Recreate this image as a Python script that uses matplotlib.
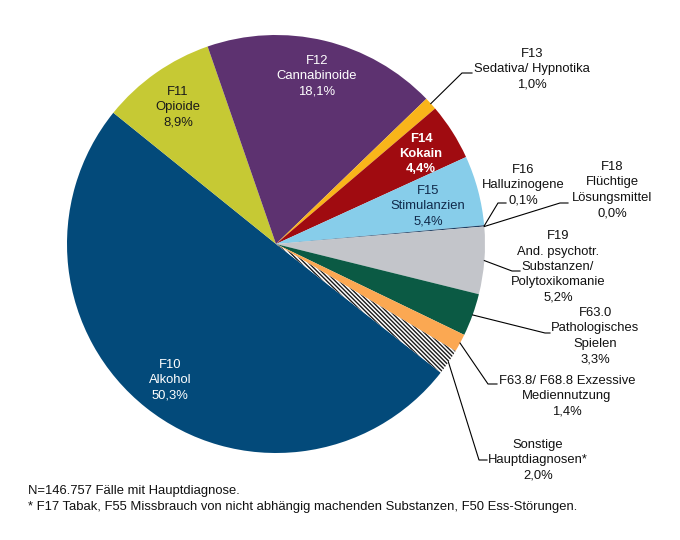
"""Hauptdiagnosen als Tortendiagramm (Anteile in %)."""

import numpy as np
import matplotlib
matplotlib.use('Agg')
import matplotlib.pyplot as plt

plt.rcParams['font.family'] = ['Liberation Sans', 'DejaVu Sans']
plt.rcParams['hatch.linewidth'] = 1.0

codes = ['F10', 'F11', 'F12', 'F13', 'F14', 'F15', 'F16', 'F18',
         'F19', 'F63.0', 'F63.8', 'Sonstige']
labels = ['F10\nAlkohol', 'F11\nOpioide', 'F12\nCannabinoide',
          'F13\nSedativa/ Hypnotika', 'F14\nKokain', 'F15\nStimulanzien',
          'F16\nHalluzinogene', 'F18\nFlüchtige\nLösungsmittel',
          'F19\nAnd. psychotr.\nSubstanzen/\nPolytoxikomanie',
          'F63.0\nPathologisches\nSpielen',
          'F63.8/ F68.8 Exzessive\nMediennutzung',
          'Sonstige\nHauptdiagnosen*']
shares = [50.3, 8.9, 18.1, 1.0, 4.4, 5.4, 0.1, 0.0, 5.2, 3.3, 1.4, 2.0]
colors = ['#034a7a', '#c6c934', '#5d3270', '#f9b51a', '#a00b10', '#87cdea',
          '#1f3f63', '#1f3f63', '#c3c5ca', '#0b5a44', '#fba852', 'white']

footnote = ("N=146.757 Fälle mit Hauptdiagnose.\n"
            "* F17 Tabak, F55 Missbrauch von nicht abhängig machenden "
            "Substanzen, F50 Ess-Störungen.")

W, H = 680, 540
CX, CY, R = 276, 244, 209
FS = 9.4
LS = 1.38


def px(x, y):
    """Pixel position (from top left) -> data coords of the pie axes."""
    return (x - CX) / R, (CY - y) / R


# labels inside the wedges: text centre, colour, weight
inside = {
    'F10': ((170, 380), 'white', 'normal'),
    'F11': ((178, 107), '#1a1a1a', 'normal'),
    'F12': ((317, 76), 'white', 'normal'),
    'F14': ((421, 154), 'white', 'bold'),
    'F15': ((428, 206), '#10294a', 'normal'),
}
# labels outside: text centre, elbow of leader line, end of leader line
outside = {
    'F13': ((532, 69), (462, 73), (472, 73)),
    'F16': ((523, 185), (498, 203), (506, 203)),
    'F18': ((612, 190), (560, 203), (568, 203)),
    'F19': ((558, 267), (512, 271), (520, 271)),
    'F63.0': ((595, 336), (545, 333), (550, 333)),
    'F63.8': ((567, 396), (488, 384), (497, 384)),
    'Sonstige': ((538, 460), (479, 460), (487, 460)),
}


def main():
    fig = plt.figure(figsize=(W / 100, H / 100), dpi=100)
    ax = fig.add_axes([0, 0, 1, 1])

    wedges, _ = ax.pie(shares, colors=colors, startangle=-38,
                       counterclock=False, radius=1.0,
                       wedgeprops=dict(linewidth=0))
    wedges[-1].set_hatch('\\' * 8)
    wedges[-1].set_edgecolor('#1a1a1a')
    wedges[-1].set_linewidth(0)

    # pie() resets the limits, so set them afterwards
    ax.set_xlim(-CX / R, (W - CX) / R)
    ax.set_ylim((CY - H) / R, CY / R)
    ax.set_aspect('equal')
    ax.axis('off')

    for code, lab, val, w in zip(codes, labels, shares, wedges):
        txt = f"{lab}\n{str(val).replace('.', ',')}%"
        if code in inside:
            pos, col, wt = inside[code]
            ax.text(*px(*pos), txt, ha='center', va='center', fontsize=FS,
                    color=col, fontweight=wt, linespacing=LS)
        else:
            pos, elbow, end = outside[code]
            ang = np.deg2rad((w.theta1 + w.theta2) / 2)
            start = (np.cos(ang), np.sin(ang))
            e1, e2 = px(*elbow), px(*end)
            ax.plot([start[0], e1[0], e2[0]], [start[1], e1[1], e2[1]],
                    color='black', linewidth=0.8, solid_joinstyle='miter')
            ax.text(*px(*pos), txt, ha='center', va='center', fontsize=FS,
                    color='#111111', linespacing=LS)

    fig.text(28 / W, 1 - 485 / H, footnote, ha='left', va='top',
             fontsize=FS, color='#111111', linespacing=1.4)

    fig.savefig('out.png', dpi=100)


if __name__ == "__main__":
    main()
